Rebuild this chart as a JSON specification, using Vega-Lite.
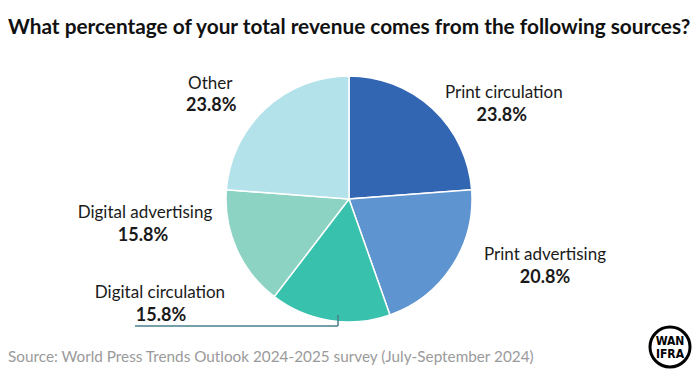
{
  "$schema": "https://vega.github.io/schema/vega-lite/v6.json",
  "background": "white",
  "padding": {"left": 0, "right": 2, "top": 17, "bottom": 10},
  "title": {
    "text": "What percentage of your total revenue comes from the following sources?",
    "anchor": "start",
    "dx": 8,
    "fontSize": 20.8,
    "font": "Lato",
    "fontWeight": "bold",
    "color": "#111111",
    "offset": 18
  },
  "datasets": {
    "rev": [
      {"cat": "Print circulation", "value": 0.238, "order": 1},
      {"cat": "Print advertising", "value": 0.208, "order": 2},
      {"cat": "Digital circulation", "value": 0.158, "order": 3},
      {"cat": "Digital advertising", "value": 0.158, "order": 4},
      {"cat": "Other", "value": 0.238, "order": 5}
    ],
    "logo": [{"top": "WAN", "bottom": "IFRA"}]
  },
  "vconcat": [
    {
      "width": 698,
      "height": 284,
      "title": {
        "text": "Source: World Press Trends Outlook 2024-2025 survey (July-September 2024)",
        "orient": "bottom",
        "anchor": "start",
        "dx": 8,
        "offset": -23,
        "fontSize": 15.3,
        "font": "Lato",
        "fontWeight": "normal",
        "color": "#9a9a9a"
      },
      "view": {"stroke": null},
      "layer": [
        {
          "data": {"name": "rev"},
          "encoding": {
            "theta": {"field": "value", "type": "quantitative", "stack": true},
            "order": {"field": "order", "type": "quantitative"}
          },
          "layer": [
            {
              "mark": {"type": "arc", "radius": 123, "stroke": "white", "strokeWidth": 1.5},
              "encoding": {
                "color": {
                  "field": "cat",
                  "type": "nominal",
                  "legend": null,
                  "scale": {
                    "domain": ["Print circulation", "Print advertising", "Digital circulation", "Digital advertising", "Other"],
                    "range": ["#3366b2", "#5e94d0", "#38c2ae", "#8cd3c4", "#b3e2ea"]
                  }
                }
              }
            },
            {
              "mark": {"type": "text", "clip": true, "radius": 160, "dx": 46, "dy": 11, "fontSize": 17, "font": "Lato", "color": "#1a1a1a", "align": "center", "baseline": "middle"},
              "encoding": {"text": {"condition": {"test": "datum.cat === 'Print circulation'", "field": "cat", "type": "nominal"}, "value": ""}}
            },
            {
              "mark": {"type": "text", "clip": true, "radius": 160, "dx": 44, "dy": 34, "fontSize": 18, "font": "Lato", "fontWeight": "bold", "color": "#1a1a1a", "align": "center", "baseline": "middle"},
              "encoding": {"text": {"condition": {"test": "datum.cat === 'Print circulation'", "field": "value", "type": "quantitative", "format": ".1%"}, "value": ""}}
            },
            {
              "mark": {"type": "text", "clip": true, "radius": 160, "dx": 62, "dy": -31, "fontSize": 17, "font": "Lato", "color": "#1a1a1a", "align": "center", "baseline": "middle"},
              "encoding": {"text": {"condition": {"test": "datum.cat === 'Print advertising'", "field": "cat", "type": "nominal"}, "value": ""}}
            },
            {
              "mark": {"type": "text", "clip": true, "radius": 160, "dx": 62, "dy": -8, "fontSize": 18, "font": "Lato", "fontWeight": "bold", "color": "#1a1a1a", "align": "center", "baseline": "middle"},
              "encoding": {"text": {"condition": {"test": "datum.cat === 'Print advertising'", "field": "value", "type": "quantitative", "format": ".1%"}, "value": ""}}
            },
            {
              "mark": {"type": "text", "clip": true, "radius": 160, "dx": -164, "dy": -64, "fontSize": 17, "font": "Lato", "color": "#1a1a1a", "align": "center", "baseline": "middle"},
              "encoding": {"text": {"condition": {"test": "datum.cat === 'Digital circulation'", "field": "cat", "type": "nominal"}, "value": ""}}
            },
            {
              "mark": {"type": "text", "clip": true, "radius": 160, "dx": -163, "dy": -41, "fontSize": 18, "font": "Lato", "fontWeight": "bold", "color": "#1a1a1a", "align": "center", "baseline": "middle"},
              "encoding": {"text": {"condition": {"test": "datum.cat === 'Digital circulation'", "field": "value", "type": "quantitative", "format": ".1%"}, "value": ""}}
            },
            {
              "mark": {"type": "text", "clip": true, "radius": 160, "dx": -58, "dy": -51, "fontSize": 17, "font": "Lato", "color": "#1a1a1a", "align": "center", "baseline": "middle"},
              "encoding": {"text": {"condition": {"test": "datum.cat === 'Digital advertising'", "field": "cat", "type": "nominal"}, "value": ""}}
            },
            {
              "mark": {"type": "text", "clip": true, "radius": 160, "dx": -60, "dy": -28, "fontSize": 18, "font": "Lato", "fontWeight": "bold", "color": "#1a1a1a", "align": "center", "baseline": "middle"},
              "encoding": {"text": {"condition": {"test": "datum.cat === 'Digital advertising'", "field": "value", "type": "quantitative", "format": ".1%"}, "value": ""}}
            },
            {
              "mark": {"type": "text", "clip": true, "radius": 160, "dx": -30, "dy": 2, "fontSize": 17, "font": "Lato", "color": "#1a1a1a", "align": "center", "baseline": "middle"},
              "encoding": {"text": {"condition": {"test": "datum.cat === 'Other'", "field": "cat", "type": "nominal"}, "value": ""}}
            },
            {
              "mark": {"type": "text", "clip": true, "radius": 160, "dx": -29, "dy": 24, "fontSize": 18, "font": "Lato", "fontWeight": "bold", "color": "#1a1a1a", "align": "center", "baseline": "middle"},
              "encoding": {"text": {"condition": {"test": "datum.cat === 'Other'", "field": "value", "type": "quantitative", "format": ".1%"}, "value": ""}}
            }
          ]
        },
        {
          "data": {"name": "logo"},
          "layer": [
            {
              "mark": {"type": "rule", "color": "#4a7f8e", "strokeWidth": 1.5},
              "encoding": {"x": {"value": 135}, "x2": {"value": 338}, "y": {"value": 269}}
            },
            {
              "mark": {"type": "rule", "color": "#4a7f8e", "strokeWidth": 1.5},
              "encoding": {"x": {"value": 338}, "y": {"value": 258}, "y2": {"value": 269}}
            },
            {
              "mark": {"type": "point", "shape": "circle", "filled": false, "fill": "white", "stroke": "black", "strokeWidth": 3, "size": 1600, "opacity": 1},
              "encoding": {"x": {"value": 670}, "y": {"value": 290}}
            },
            {
              "mark": {"type": "text", "font": "DejaVu Sans Condensed", "fontWeight": "bold", "fontSize": 12, "color": "black", "align": "center", "baseline": "middle"},
              "encoding": {"x": {"value": 670}, "y": {"value": 284}, "text": {"field": "top"}}
            },
            {
              "mark": {"type": "text", "font": "DejaVu Sans Condensed", "fontWeight": "bold", "fontSize": 12, "color": "black", "align": "center", "baseline": "middle"},
              "encoding": {"x": {"value": 670}, "y": {"value": 297}, "text": {"field": "bottom"}}
            }
          ]
        }
      ]
    }
  ]
}
